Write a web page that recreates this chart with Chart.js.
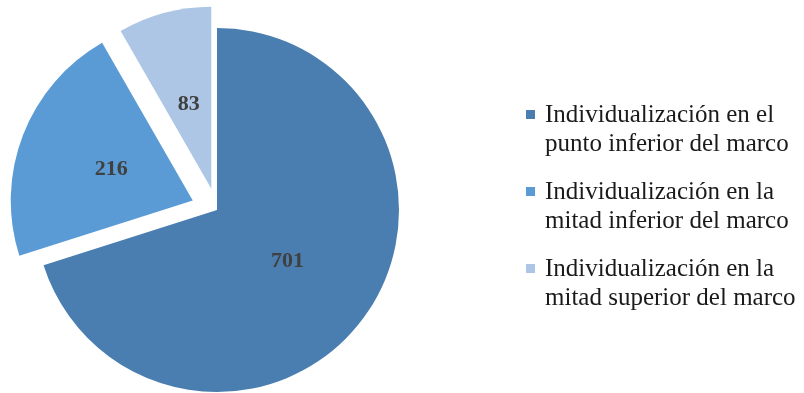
<!DOCTYPE html>
<html>
<head>
<meta charset="utf-8">
<script src="https://cdn.jsdelivr.net/npm/chart.js@4/dist/chart.umd.min.js"></script>
<style>
  html, body { margin: 0; padding: 0; background: #fff; }
  #wrap { position: relative; width: 804px; height: 393px; }
</style>
</head>
<body>
<div id="wrap"><canvas id="pie-chart"></canvas></div>
<script>
const categories = [
    ['Individualización en el', 'punto inferior del marco'],
    ['Individualización en la', 'mitad inferior del marco'],
    ['Individualización en la', 'mitad superior del marco']
];
const counts = [701, 216, 83];
const sliceColors = ['#4a7eb0', '#5a9bd5', '#adc6e6'];
const sliceOffsets = [0, 26, 22];

const SERIF = '"Liberation Serif", "DejaVu Serif", serif';

// Arc that is pulled straight out along its middle angle by `offset` pixels,
// keeping the same radius as the other slices
class ExplodedArc extends Chart.ArcElement {
    draw(ctx) {
        const { x, y, startAngle, endAngle, outerRadius } = this;
        const shift = this.options.offset || 0;
        const mid = (startAngle + endAngle) / 2;
        ctx.save();
        ctx.translate(Math.cos(mid) * shift, Math.sin(mid) * shift);
        ctx.beginPath();
        ctx.moveTo(x, y);
        ctx.arc(x, y, outerRadius, startAngle, endAngle);
        ctx.closePath();
        ctx.fillStyle = this.options.backgroundColor;
        ctx.fill();
        ctx.restore();
    }
}
ExplodedArc.id = 'explodedArc';
Chart.register(ExplodedArc);
Chart.defaults.datasets.pie.dataElementType = 'explodedArc';

// Numbers inside each slice, a bit short of half the radius out from the tip
const valueLabels = {
    id: 'valueLabels',
    afterDatasetsDraw(chart) {
        const ctx = chart.ctx;
        const meta = chart.getDatasetMeta(0);
        ctx.save();
        ctx.font = 'bold 22px ' + SERIF;
        ctx.fillStyle = '#404040';
        ctx.textAlign = 'center';
        ctx.textBaseline = 'middle';
        meta.data.forEach((arc, i) => {
            const mid = (arc.startAngle + arc.endAngle) / 2;
            const dist = sliceOffsets[i] + arc.outerRadius * 0.48;
            ctx.fillText(String(counts[i]), arc.x + Math.cos(mid) * dist, arc.y + Math.sin(mid) * dist);
        });
        ctx.restore();
    }
};

// Legend on the right with two-line entries
const sideLegend = {
    id: 'sideLegend',
    afterDraw(chart) {
        const ctx = chart.ctx;
        const left = 526;
        const firstBaseline = 122;
        const itemStep = 77;
        const lineHeight = 29;
        ctx.save();
        ctx.font = '25px ' + SERIF;
        ctx.textAlign = 'left';
        ctx.textBaseline = 'alphabetic';
        chart.data.labels.forEach((lines, i) => {
            const base = firstBaseline + i * itemStep;
            ctx.fillStyle = sliceColors[i];
            ctx.fillRect(left, base - 12, 9, 9);
            ctx.fillStyle = '#1a1a1a';
            lines.forEach((line, j) => {
                ctx.fillText(line, left + 19, base + j * lineHeight);
            });
        });
        ctx.restore();
    }
};

new Chart(document.getElementById('pie-chart'), {
    type: 'pie',
    data: {
        labels: categories,
        datasets: [{
            data: counts,
            backgroundColor: sliceColors,
            borderWidth: 0,
            offset: sliceOffsets
        }]
    },
    options: {
        responsive: true,
        maintainAspectRatio: false,
        animation: false,
        radius: 182,
        layout: {
            padding: { left: 0, right: 370, top: 27, bottom: 0 }
        },
        plugins: {
            legend: { display: false },
            tooltip: { enabled: false }
        }
    },
    plugins: [valueLabels, sideLegend]
});
</script>
</body>
</html>
